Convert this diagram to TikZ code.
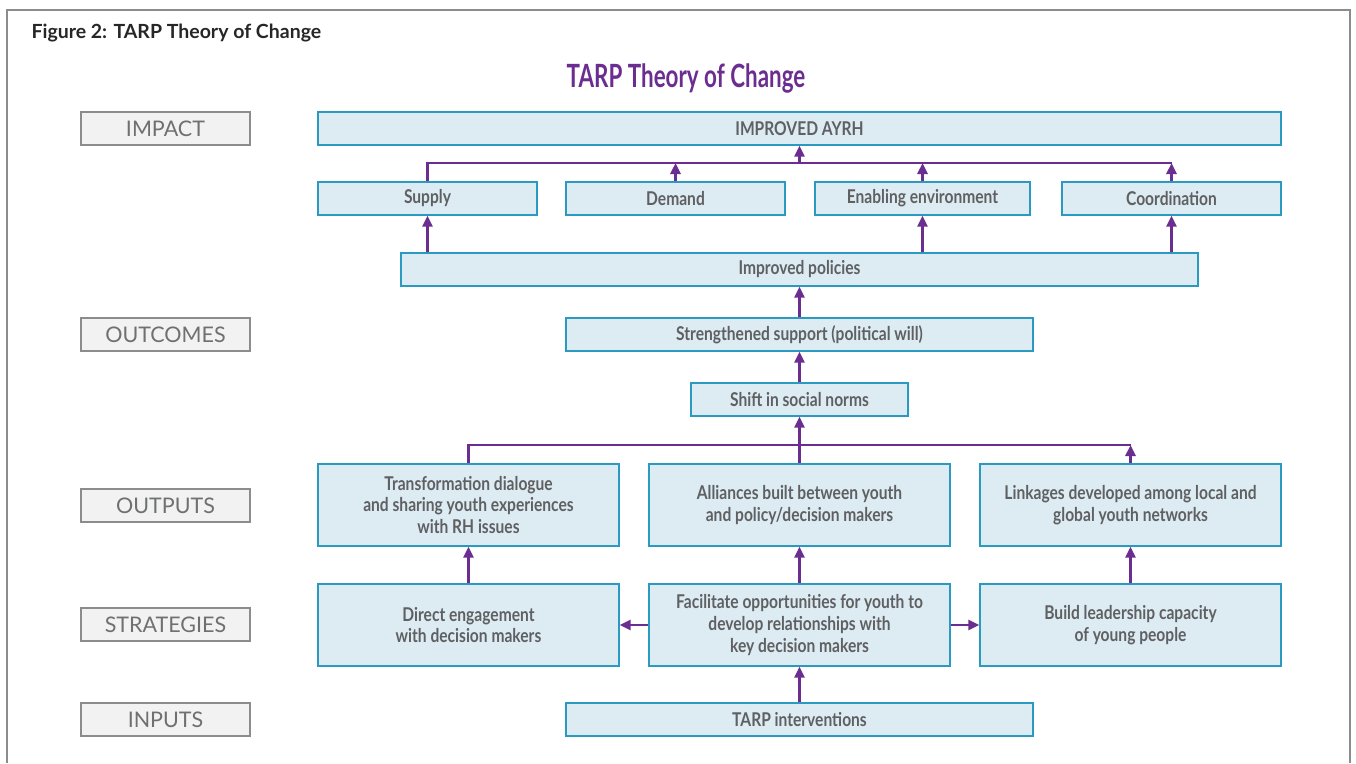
\documentclass[tikz,border=0pt]{standalone}
\usepackage{fontspec}
\setmainfont{Lato}
\newfontfamily\boxfont[FakeStretch=0.82]{Lato}
\newfontfamily\titlefont[FakeStretch=0.70]{Lato}
\usetikzlibrary{arrows.meta}
\definecolor{boxfill}{HTML}{DDEBF3}
\definecolor{boxline}{HTML}{2B9AC0}
\definecolor{flowcol}{HTML}{6B2D90}
\definecolor{boxtext}{HTML}{5F6062}
\definecolor{tagfill}{HTML}{F2F2F2}
\definecolor{tagline}{HTML}{8C8C8C}
\tikzset{
  tocbox/.style={rectangle, draw=boxline, fill=boxfill, line width=1.4pt,
    inner sep=0pt, align=center, text=boxtext,
    font=\boxfont\bfseries\fontsize{19}{21.8}\selectfont},
  tagbox/.style={rectangle, draw=tagline, fill=tagfill, line width=1.4pt,
    inner sep=0pt, minimum width=169, minimum height=33, text=boxtext!90!white,
    font=\fontsize{21.5}{24}\selectfont},
  flow/.style={draw=flowcol, line width=2.6pt, -{Triangle[length=11pt, width=10pt]}},
  link/.style={draw=flowcol, line width=2.6pt}
}
\begin{document}
\begin{tikzpicture}[x=1pt, y=-1pt]
    \useasboundingbox (0,0) rectangle (1356,763);
    % frame and headings
    \draw[tagline, line width=1.5pt] (7,763) -- (7,10) -- (1350,10) -- (1350,763);
    \node[anchor=west, font=\bfseries\fontsize{19.5}{22}\selectfont, text=black!85] (fig) at (28,33) {Figure 2: TARP Theory of Change};
    \node[font=\titlefont\bfseries\fontsize{32}{36}\selectfont, text=flowcol] (title) at (686,78) {TARP Theory of Change};

    % level tags
    \node[tagbox] (impact) at (165.5,128.5) {IMPACT};
    \node[tagbox] (outcomes) at (165.5,334.5) {OUTCOMES};
    \node[tagbox] (outputs) at (165.5,505.5) {OUTPUTS};
    \node[tagbox] (strategies) at (165.5,624.5) {STRATEGIES};
    \node[tagbox] (inputs) at (165.5,719.5) {INPUTS};

    % impact and outcomes
    \node[tocbox, minimum width=963, minimum height=33] (ayrh) at (799.5,128.5) {IMPROVED AYRH};
    \node[tocbox, minimum width=219, minimum height=33] (supply) at (427.5,198.5) {Supply};
    \node[tocbox, minimum width=219, minimum height=33] (demand) at (675.5,198.5) {Demand};
    \node[tocbox, minimum width=215, minimum height=33] (enabling) at (922.5,198.5) {Enabling environment};
    \node[tocbox, minimum width=219, minimum height=33] (coord) at (1171.5,198.5) {Coordination};
    \node[tocbox, minimum width=797, minimum height=33] (policies) at (799.5,269.5) {Improved policies};
    \node[tocbox, minimum width=467, minimum height=33] (support) at (799.5,334.5) {Strengthened support (political will)};
    \node[tocbox, minimum width=217, minimum height=33] (norms) at (799.5,399.5) {Shift in social norms};

    % outputs
    \node[tocbox, minimum width=301, minimum height=82] (dialogue) at (468.5,505) {Transformation dialogue\\and sharing youth experiences\\with RH issues};
    \node[tocbox, minimum width=301, minimum height=82] (alliance) at (799.5,505) {Alliances built between youth\\and policy/decision makers};
    \node[tocbox, minimum width=301, minimum height=82] (linkage) at (1130.5,505) {Linkages developed among local and\\global youth networks};

    % strategies and inputs
    \node[tocbox, minimum width=301, minimum height=82] (direct) at (468.5,625) {Direct engagement\\with decision makers};
    \node[tocbox, minimum width=301, minimum height=82] (facil) at (799.5,625) {Facilitate opportunities for youth to\\develop relationships with\\key decision makers};
    \node[tocbox, minimum width=301, minimum height=82] (build) at (1130.5,625) {Build leadership capacity\\of young people};
    \node[tocbox, minimum width=467, minimum height=33] (tarp) at (799.5,719.5) {TARP interventions};

    \coordinate (topbus) at (799.5,163);
    \coordinate (lowbus) at (799.5,445);

    \draw[link] (supply.north) |- (coord.north |- topbus);
    \draw[flow] (demand.north) -- (demand.north |- topbus);
    \draw[flow] (enabling.north) -- (enabling.north |- topbus);
    \draw[flow] (coord.north) -- (coord.north |- topbus);
    \draw[flow] (topbus) -- (ayrh.south);

    \draw[flow] (policies.north -| supply.south) -- (supply.south);
    \draw[flow] (policies.north -| enabling.south) -- (enabling.south);
    \draw[flow] (policies.north -| coord.south) -- (coord.south);
    \draw[flow] (support) -- (policies);
    \draw[flow] (norms) -- (support);

    \draw[link] (dialogue.north) |- (linkage.north |- lowbus);
    \draw[flow] (linkage.north) -- (linkage.north |- lowbus);
    \draw[flow] (alliance) -- (norms);

    \draw[flow] (direct) -- (dialogue);
    \draw[flow] (facil) -- (alliance);
    \draw[flow] (build) -- (linkage);
    \draw[flow] (facil) -- (direct);
    \draw[flow] (facil) -- (build);
    \draw[flow] (tarp) -- (facil);
\end{tikzpicture}
\end{document}
